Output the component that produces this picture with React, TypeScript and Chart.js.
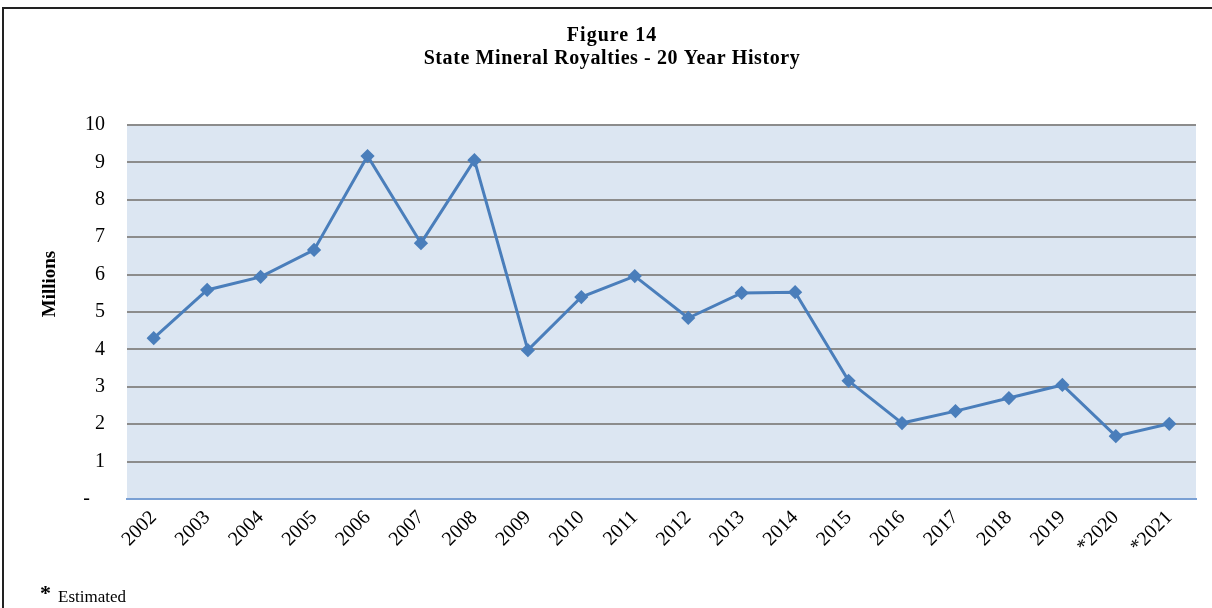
import React, { useEffect, useRef } from "react";
import { Chart, registerables } from "chart.js";

Chart.register(...registerables);

const categories = ["2002","2003","2004","2005","2006","2007","2008","2009","2010","2011","2012","2013","2014","2015","2016","2017","2018","2019","*2020","*2021"];
const royalties = [4.30,5.59,5.94,6.66,9.17,6.84,9.06,3.98,5.40,5.96,4.84,5.51,5.53,3.16,2.03,2.35,2.70,3.05,1.68,2.01];
const titleLines = ["Figure 14", "State Mineral Royalties - 20 Year History"];
const yAxisTitle = "Millions";
const footnoteMark = "*";
const footnoteText = "Estimated";

const SERIF = "'Liberation Serif', 'Times New Roman', serif";

const decorPlugin = {
  id: "decor",
  beforeDraw(chart: any) {
    const { ctx, chartArea } = chart;
    ctx.save();
    ctx.fillStyle = "#dce6f2";
    ctx.fillRect(chartArea.left, chartArea.top, chartArea.right - chartArea.left, chartArea.bottom - chartArea.top);
    ctx.restore();
  },
  afterDraw(chart: any) {
    const { ctx } = chart;
    ctx.save();
    ctx.fillStyle = "#000";
    ctx.textAlign = "center";
    ctx.textBaseline = "alphabetic";
    ctx.font = `bold 20px ${SERIF}`;
    (ctx as any).letterSpacing = "1px";
    ctx.fillText(titleLines[0], 612, 41);
    (ctx as any).letterSpacing = "0.6px";
    ctx.fillText(titleLines[1], 612, 64);
    (ctx as any).letterSpacing = "0px";
    // y-axis title
    ctx.save();
    ctx.translate(50, 284);
    ctx.rotate(-Math.PI / 2);
    ctx.textBaseline = "middle";
    ctx.font = `bold 19px ${SERIF}`;
    ctx.fillText(yAxisTitle, 0, 0);
    ctx.restore();
    ctx.textAlign = "left";
    ctx.font = `bold 22px ${SERIF}`;
    ctx.fillText(footnoteMark, 40, 600);
    ctx.font = `17px ${SERIF}`;
    ctx.fillText(footnoteText, 58, 602);
    ctx.restore();
  },
};

export default function App() {
  const ref = useRef<HTMLCanvasElement>(null);
  useEffect(() => {
    const chart = new Chart(ref.current!, {
      type: "line",
      data: {
        labels: categories,
        datasets: [
          {
            data: royalties,
            borderColor: "#4a7ebb",
            backgroundColor: "#4a7ebb",
            borderWidth: 3,
            pointStyle: "rectRot",
            pointRadius: 5,
            pointHoverRadius: 5,
            tension: 0,
          },
        ],
      },
      options: {
        animation: false,
        responsive: false,
        maintainAspectRatio: false,
        layout: { padding: { left: 0, top: 125, right: 16, bottom: 0 } },
        plugins: { legend: { display: false }, title: { display: false }, tooltip: { enabled: false } },
        scales: {
          x: {
            offset: true,
            grid: { display: false, drawTicks: false },
            border: { display: true, color: "#7aa0d4", width: 2 },
            ticks: {
              color: "#000",
              font: { family: SERIF, size: 20 },
              minRotation: 45,
              maxRotation: 45,
              padding: 7,
              autoSkip: false,
            },
            afterFit(scale: any) {
              scale.height = 109;
            },
          },
          y: {
            min: 0,
            max: 10,
            grid: {
              color: (c: any) => (c.tick && c.tick.value === 0 ? "rgba(0,0,0,0)" : "#8c8c8c"),
              lineWidth: 2,
              drawTicks: false,
            },
            border: { display: false },
            ticks: {
              stepSize: 1,
              color: "#000",
              font: { family: SERIF, size: 20 },
              padding: 22,
              callback: (v: any) => (v === 0 ? "-   " : String(v)),
            },
            afterFit(scale: any) {
              scale.width = 127;
            },
          },
        },
      },
      plugins: [decorPlugin],
    });
    return () => chart.destroy();
  }, []);
  return (
    <div style={{ position: "absolute", left: 0, top: 0, width: 1212, height: 608, background: "#fff" }}>
      <canvas ref={ref} width={1212} height={608} style={{ position: "absolute", left: 0, top: 0 }} />
      <div
        style={{
          position: "absolute",
          left: 2,
          top: 7,
          width: 1210,
          height: 601,
          borderTop: "2px solid #222",
          borderLeft: "2px solid #222",
          boxSizing: "border-box",
          pointerEvents: "none",
        }}
      />
    </div>
  );
}
